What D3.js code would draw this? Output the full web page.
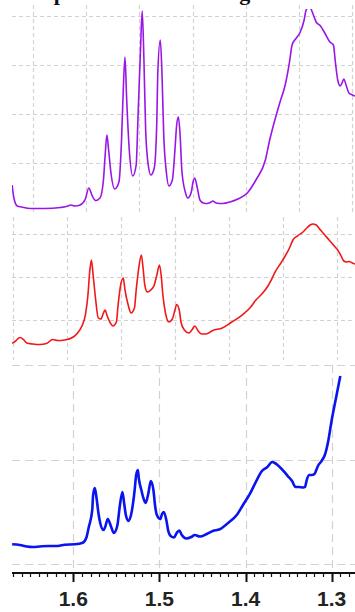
<!DOCTYPE html>
<html>
<head>
<meta charset="utf-8">
<script src="https://cdn.jsdelivr.net/npm/d3@7"></script>
<style>
  html, body { margin: 0; padding: 0; background: #fff; }
  svg { display: block; }
</style>
</head>
<body>
<svg id="chart" width="355" height="612"></svg>
<script>
// Chemical shift axis (ppm)
const ppmTicks = [1.6, 1.5, 1.4, 1.3];
const tickLabels = ["1.6", "1.5", "1.4", "1.3"];

// Top trace (violet)
const violetPpm = [1.671,1.669,1.665,1.660,1.650,1.633,1.615,1.606,1.603,1.598,1.592,1.586,1.582,1.578,1.574,1.569,1.565,1.563,1.561,1.559,1.556,1.552,1.547,1.544,1.542,1.540,1.538,1.535,1.531,1.527,1.525,1.522,1.520,1.518,1.516,1.513,1.510,1.506,1.503,1.502,1.499,1.497,1.495,1.492,1.489,1.485,1.482,1.480,1.478,1.476,1.474,1.470,1.467,1.463,1.461,1.459,1.456,1.453,1.449,1.445,1.440,1.438,1.434,1.427,1.418,1.409,1.398,1.388,1.377,1.372,1.366,1.360,1.354,1.349,1.346,1.341,1.337,1.332,1.330,1.326,1.323,1.318,1.313,1.308,1.302,1.298,1.296,1.293,1.290,1.288,1.286,1.283,1.280,1.276,1.273];
const violetInt = [0.551,0.286,0.122,0.102,0.071,0.071,0.092,0.122,0.143,0.122,0.143,0.265,0.490,0.327,0.235,0.286,0.653,1.163,1.571,1.265,0.755,0.469,0.612,1.469,2.490,3.163,2.286,1.265,0.735,0.959,1.878,3.306,4.102,3.102,1.673,0.959,0.755,0.898,1.878,2.796,3.510,2.796,1.571,0.816,0.531,0.653,1.265,1.776,1.939,1.571,0.857,0.408,0.286,0.408,0.612,0.694,0.490,0.245,0.184,0.173,0.204,0.224,0.184,0.173,0.204,0.265,0.388,0.653,1.061,1.469,1.878,2.245,2.592,3.061,3.408,3.551,3.653,3.918,4.102,4.204,4.102,3.878,3.796,3.653,3.469,3.408,3.102,2.694,2.571,2.633,2.714,2.571,2.429,2.388,2.367];

// Middle trace (red)
const redPpm = [1.671,1.667,1.662,1.658,1.654,1.647,1.639,1.631,1.624,1.618,1.610,1.600,1.595,1.590,1.586,1.583,1.581,1.579,1.577,1.574,1.571,1.568,1.565,1.563,1.561,1.557,1.554,1.550,1.548,1.545,1.542,1.540,1.536,1.533,1.529,1.527,1.524,1.521,1.519,1.517,1.514,1.510,1.506,1.503,1.500,1.498,1.496,1.493,1.489,1.485,1.482,1.480,1.477,1.475,1.471,1.466,1.462,1.459,1.455,1.451,1.446,1.438,1.427,1.416,1.404,1.395,1.388,1.381,1.374,1.369,1.365,1.359,1.354,1.349,1.345,1.340,1.334,1.330,1.325,1.322,1.318,1.313,1.308,1.302,1.296,1.293,1.289,1.286,1.283,1.280,1.276,1.273];
const redInt = [0.458,0.512,0.593,0.547,0.465,0.442,0.430,0.453,0.547,0.523,0.535,0.605,0.698,0.860,1.116,1.581,2.116,2.395,2.047,1.465,1.047,1.023,1.163,1.233,1.116,0.930,0.860,0.953,1.349,1.814,1.977,1.698,1.326,1.163,1.279,1.698,2.209,2.512,2.209,1.814,1.651,1.698,1.814,2.047,2.279,2.047,1.581,1.163,0.953,1.023,1.233,1.360,1.233,0.953,0.767,0.698,0.779,0.860,0.744,0.674,0.674,0.756,0.814,0.953,1.116,1.279,1.465,1.605,1.791,1.977,2.140,2.326,2.488,2.674,2.860,2.953,3.035,3.116,3.209,3.233,3.209,3.093,2.977,2.837,2.698,2.628,2.488,2.372,2.349,2.360,2.326,2.302];

// Bottom trace (blue)
const bluePpm = [1.671,1.662,1.654,1.647,1.639,1.629,1.618,1.610,1.598,1.589,1.585,1.582,1.578,1.577,1.575,1.573,1.571,1.569,1.565,1.563,1.560,1.556,1.553,1.549,1.546,1.543,1.541,1.539,1.536,1.533,1.529,1.527,1.525,1.524,1.521,1.519,1.516,1.513,1.510,1.507,1.505,1.503,1.499,1.497,1.495,1.492,1.490,1.487,1.483,1.480,1.477,1.474,1.469,1.463,1.459,1.453,1.445,1.438,1.430,1.420,1.410,1.403,1.395,1.387,1.381,1.375,1.369,1.366,1.361,1.355,1.351,1.346,1.342,1.338,1.333,1.331,1.329,1.326,1.323,1.320,1.316,1.311,1.308,1.304,1.300,1.295,1.290];
const blueInt = [0.198,0.191,0.176,0.171,0.176,0.181,0.181,0.194,0.198,0.214,0.261,0.372,0.543,0.693,0.764,0.663,0.523,0.422,0.342,0.372,0.452,0.372,0.312,0.382,0.583,0.724,0.613,0.492,0.432,0.492,0.724,0.894,0.945,0.864,0.744,0.673,0.613,0.704,0.834,0.744,0.583,0.492,0.452,0.503,0.523,0.442,0.342,0.281,0.266,0.312,0.337,0.291,0.256,0.271,0.291,0.276,0.302,0.332,0.349,0.415,0.495,0.593,0.704,0.844,0.935,0.972,1.025,1.015,0.980,0.925,0.884,0.834,0.774,0.774,0.769,0.774,0.844,0.894,0.894,0.905,0.985,1.045,1.095,1.236,1.447,1.668,1.889];

const svg = d3.select("#chart");
const x = d3.scaleLinear().domain([1.6, 1.3]).range([73.3, 331.7]);
const left = 12, right = 355;

// Panel layout: pixel bands and y scales
const panels = [
  {
    ppm: violetPpm, val: violetInt, color: "#9a16e6", width: 1.6,
    top: 5, bottom: 213, clipTop: 9,
    y: d3.scaleLinear().domain([1, 4]).range([163, 16]),
    hLevels: [1, 2, 3, 4],
    vGrid: d3.scaleLinear().domain([0, 6]).range([33, 352]),
    vCount: 7, dash: "4,3"
  },
  {
    ppm: redPpm, val: redInt, color: "#f01818", width: 1.6,
    top: 217, bottom: 360, clipTop: 217,
    y: d3.scaleLinear().domain([1, 3]).range([320, 234]),
    hLevels: [1, 2, 3],
    vGrid: d3.scaleLinear().domain([0, 5]).range([12.7, 283.3]),
    vCount: 7, dash: "4,3"
  },
  {
    ppm: bluePpm, val: blueInt, color: "#0a14ee", width: 2.6,
    top: 365, bottom: 573, clipTop: 365,
    y: d3.scaleLinear().domain([0, 2]).range([564, 365]),
    hLevels: [0, 1.045, 2],
    vGrid: null, dash: "8,5"
  }
];

const defs = svg.append("defs");

panels.forEach((p, i) => {
  const g = svg.append("g").attr("class", "panel panel-" + i);
  const grid = g.append("g").attr("class", "grid")
    .attr("stroke", "#d2d2d2").attr("stroke-width", 1.2)
    .attr("stroke-dasharray", p.dash).attr("fill", "none");

  // horizontal grid lines
  grid.selectAll("line.h").data(p.hLevels).join("line")
    .attr("class", "h")
    .attr("x1", left).attr("x2", right)
    .attr("y1", d => Math.round(p.y(d)) + 0.5)
    .attr("y2", d => Math.round(p.y(d)) + 0.5);

  // vertical grid lines
  const vx = p.vGrid ? d3.range(p.vCount).map(k => p.vGrid(k)) : ppmTicks.map(v => x(v));
  grid.selectAll("line.v").data(vx).join("line")
    .attr("class", "v")
    .attr("x1", d => Math.round(d) + 0.5).attr("x2", d => Math.round(d) + 0.5)
    .attr("y1", p.top).attr("y2", p.bottom);

  defs.append("clipPath").attr("id", "clip" + i)
    .append("rect").attr("x", left).attr("y", p.clipTop)
    .attr("width", right - left).attr("height", p.bottom - p.clipTop);

  const line = d3.line()
    .x(d => x(d[0]))
    .y(d => p.y(d[1]))
    .curve(d3.curveMonotoneX);

  g.append("path")
    .attr("clip-path", "url(#clip" + i + ")")
    .datum(d3.zip(p.ppm, p.val))
    .attr("fill", "none")
    .attr("stroke", p.color)
    .attr("stroke-width", p.width)
    .attr("stroke-linejoin", "round")
    .attr("d", line);
});

// Bottom ppm axis with minor ticks
const axisY = 573;
const axisG = svg.append("g").attr("class", "axis");
axisG.append("line")
  .attr("x1", left).attr("x2", right)
  .attr("y1", axisY).attr("y2", axisY)
  .attr("stroke", "#111").attr("stroke-width", 2.2);

const minor = d3.range(128, 168).map(k => k / 100);
axisG.selectAll("line.minor").data(minor).join("line")
  .attr("class", "minor")
  .attr("x1", d => Math.round(x(d)) + 0.5).attr("x2", d => Math.round(x(d)) + 0.5)
  .attr("y1", axisY).attr("y2", axisY + 4)
  .attr("stroke", "#111").attr("stroke-width", 1.2);

axisG.selectAll("line.major").data(ppmTicks).join("line")
  .attr("class", "major")
  .attr("x1", d => Math.round(x(d)) + 0.5).attr("x2", d => Math.round(x(d)) + 0.5)
  .attr("y1", axisY).attr("y2", axisY + 9)
  .attr("stroke", "#111").attr("stroke-width", 2);

axisG.selectAll("text").data(ppmTicks).join("text")
  .attr("x", d => x(d))
  .attr("y", 606)
  .attr("text-anchor", "middle")
  .attr("font-family", "Liberation Sans, Arial, sans-serif")
  .attr("font-weight", "bold")
  .attr("font-size", 21)
  .attr("fill", "#222")
  .text((d, i) => tickLabels[i]);

// Heading above the stack
const head = svg.append("text")
  .attr("y", -0.5)
  .attr("font-family", "Liberation Serif, Times New Roman, serif")
  .attr("font-weight", "bold")
  .attr("font-size", 22)
  .attr("fill", "#111");
head.append("tspan").attr("x", 28).text("Expanded ¹H NMR");
head.append("tspan").attr("x", 220).text("region");
</script>
</body>
</html>
